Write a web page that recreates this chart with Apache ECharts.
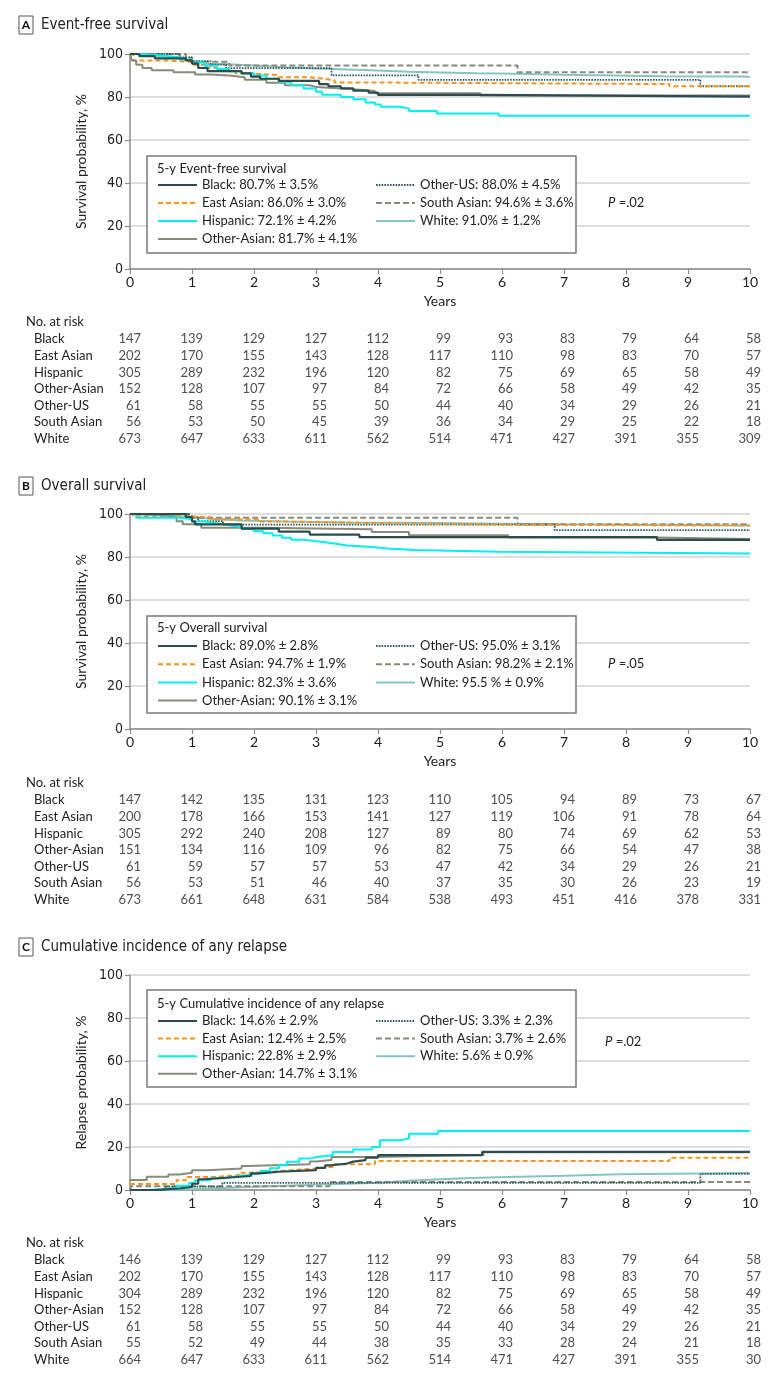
<!DOCTYPE html>
<html><head><meta charset="utf-8">
<script src="https://cdn.jsdelivr.net/npm/echarts@6/dist/echarts.min.js"></script>
<style>html,body{margin:0;padding:0;background:#fff}#c{width:783px;height:1379px}</style>
</head><body><div id="c"></div>
<script>
// ---------------- DATA ----------------
const groups = ['Black','East Asian','Hispanic','Other-Asian','Other-US','South Asian','White'];
const yearTicks = [0,1,2,3,4,5,6,7,8,9,10];

// Panel A: Event-free survival (%), step curves [years, value]
const efsBlack = [[0,100],[0.15,99],[0.4,98],[0.9,97],[1.0,95.5],[1.1,93.5],[1.25,92],[1.8,91],[1.95,89.5],[2.1,88.5],[2.4,87.5],[3.05,86],[3.2,85],[3.4,84],[3.6,83],[3.85,82],[4.0,81],[5.65,80.2],[10,80.2]];
const efsEastAsian = [[0,100],[0.05,97],[0.6,96.3],[1.0,95],[1.2,93.5],[1.45,92],[1.7,91],[1.95,90.2],[2.4,89.2],[2.9,88.6],[3.1,87.8],[3.3,86.8],[3.6,86.0],[8.7,85],[10,85]];
const efsHispanic = [[0,100],[0.2,99.3],[0.5,98.5],[0.8,97.5],[1.0,96],[1.2,94.5],[1.4,93],[1.6,92],[1.8,91],[2.0,90],[2.2,88.5],[2.4,87],[2.6,85.5],[2.8,84],[3.0,82.5],[3.1,81],[3.4,80],[3.6,79],[3.8,77.5],[3.95,76.5],[4.05,75.5],[4.35,74.6],[4.5,73.5],[4.95,72.3],[5.95,71.3],[10,71.3]];
const efsOtherAsian = [[0,100],[0.03,97],[0.1,95],[0.2,93.5],[0.35,92.5],[0.7,91.5],[1.05,90.5],[1.3,90],[1.6,89.2],[1.85,88],[2.2,86.6],[2.5,85.5],[2.9,84.6],[3.0,83.7],[3.55,82.8],[3.95,81.7],[5.65,80.7],[10,80.7]];
const efsOtherUS = [[0,100],[0.8,98.4],[1.0,96.7],[1.3,95.1],[1.55,93.4],[3.25,90.1],[4.65,88.0],[9.2,85.0],[10,85.0]];
const efsSouthAsian = [[0,100],[0.9,98.2],[1.0,96.4],[1.6,94.6],[6.25,91.5],[10,91.5]];
const efsWhite = [[0,100],[0.1,99.5],[0.3,99],[0.5,98.3],[0.8,97.3],[1.0,96.3],[1.2,95.3],[1.5,94.6],[2.0,93.8],[2.5,93.3],[3.0,92.8],[3.5,92.3],[4.0,91.7],[4.5,91.4],[5.0,91.0],[5.6,90.8],[6.2,90.3],[7.0,90],[7.8,89.7],[8.6,89.5],[9.9,89.3],[10,89.3]];

// Panel B: Overall survival (%)
const osBlack = [[0,100],[0.9,98.6],[1.0,96.6],[1.05,95.2],[1.8,93.2],[2.4,91.8],[2.9,90.4],[3.7,89.2],[8.5,88.0],[10,88.0]];
const osEastAsian = [[0,100],[0.05,99.0],[0.9,98.5],[1.3,97.5],[2.1,96.5],[2.5,95.7],[4.1,95.0],[6.2,94.7],[10,94.7]];
const osHispanic = [[0,100],[0.1,98.3],[0.8,97.6],[1.0,96.5],[1.2,95.7],[1.4,94.8],[1.6,94],[1.8,93],[2.0,92],[2.15,91],[2.3,90],[2.45,89],[2.6,88],[2.8,87.2],[3.05,86.3],[3.3,85.4],[3.5,84.6],[3.9,84.0],[4.15,83.2],[4.6,82.4],[5.95,81.6],[10,81.6]];
const osOtherAsian = [[0,100],[0.1,99.3],[0.6,98.6],[0.75,96.6],[0.85,95.2],[1.15,93.6],[2.1,92.9],[3.9,91.6],[4.5,90.1],[6.1,89.1],[8.5,88.4],[10,88.4]];
const osOtherUS = [[0,100],[0.95,98.4],[1.1,96.7],[1.5,95.1],[6.85,92.5],[10,92.5]];
const osSouthAsian = [[0,100],[1.0,98.2],[6.25,95.2],[10,95.2]];
const osWhite = [[0,100],[0.1,99.5],[0.4,99],[0.8,98.5],[1.0,97.8],[1.3,97],[1.8,96.5],[2.5,96.1],[3.5,95.8],[5.0,95.5],[6.0,95.2],[7,94.9],[8.5,94.6],[10,94.4]];

// Panel C: Cumulative incidence of any relapse (%)
const cirBlack = [[0,0],[0.4,0.7],[0.8,1.4],[1.0,2.9],[1.1,5.0],[1.2,5.7],[1.55,6.5],[1.95,7.7],[2.1,8.5],[2.4,9.2],[3.0,10.3],[3.15,11.5],[3.25,12.3],[3.5,13.2],[3.6,13.9],[3.8,15.1],[4.0,16.2],[5.68,17.7],[10,17.7]];
const cirEastAsian = [[0,2.8],[0.75,4.5],[0.9,6.0],[1.35,6.9],[1.75,8.0],[1.95,8.7],[2.35,9.2],[2.6,10.0],[3.0,10.8],[3.28,12.0],[3.95,13.5],[8.7,15.0],[10,15.0]];
const cirHispanic = [[0,0],[0.3,0.5],[0.55,1.0],[0.75,2.0],[0.95,3.2],[1.05,4.5],[1.3,5.5],[1.5,6.3],[1.7,7.0],[1.9,7.8],[2.1,8.8],[2.26,10.1],[2.4,11.5],[2.53,13.1],[2.73,14.6],[2.9,15.3],[3.0,16.2],[3.27,17.7],[3.6,18.8],[3.9,20.0],[4.03,23.1],[4.34,23.9],[4.5,26.2],[4.97,27.4],[10,27.4]];
const cirOtherAsian = [[0,4.6],[0.27,6.2],[0.62,7.2],[0.8,8.0],[1.0,9.2],[1.25,10],[1.8,11.2],[1.9,12.0],[2.9,13.2],[3.0,13.9],[3.25,15.4],[3.95,16.3],[5.7,17.6],[10,17.6]];
const cirOtherUS = [[0,0],[0.57,1.6],[1.49,3.3],[9.2,7.5],[10,7.5]];
const cirSouthAsian = [[0,0],[0.02,1.8],[3.22,3.7],[10,3.7]];
const cirWhite = [[0,0],[0.5,0.4],[1,0.9],[1.5,1.5],[2,2.0],[2.5,2.5],[3,2.9],[3.5,3.4],[4,4.3],[4.5,5.0],[5,5.6],[5.5,6.0],[6.1,6.6],[7,7.3],[7.9,7.9],[10,7.9]];

// Legend values (5-y estimates), in group order
const efsLegend = ['80.7% ± 3.5%','86.0% ± 3.0%','72.1% ± 4.2%','81.7% ± 4.1%','88.0% ± 4.5%','94.6% ± 3.6%','91.0% ± 1.2%'];
const osLegend  = ['89.0% ± 2.8%','94.7% ± 1.9%','82.3% ± 3.6%','90.1% ± 3.1%','95.0% ± 3.1%','98.2% ± 2.1%','95.5 % ± 0.9%'];
const cirLegend = ['14.6% ± 2.9%','12.4% ± 2.5%','22.8% ± 2.9%','14.7% ± 3.1%','3.3% ± 2.3%','3.7% ± 2.6%','5.6% ± 0.9%'];

// Numbers at risk (rows in group order, columns at years 0..10)
const riskEFS = [
  [147,139,129,127,112,99,93,83,79,64,58],
  [202,170,155,143,128,117,110,98,83,70,57],
  [305,289,232,196,120,82,75,69,65,58,49],
  [152,128,107,97,84,72,66,58,49,42,35],
  [61,58,55,55,50,44,40,34,29,26,21],
  [56,53,50,45,39,36,34,29,25,22,18],
  [673,647,633,611,562,514,471,427,391,355,309]
];
const riskOS = [
  [147,142,135,131,123,110,105,94,89,73,67],
  [200,178,166,153,141,127,119,106,91,78,64],
  [305,292,240,208,127,89,80,74,69,62,53],
  [151,134,116,109,96,82,75,66,54,47,38],
  [61,59,57,57,53,47,42,34,29,26,21],
  [56,53,51,46,40,37,35,30,26,23,19],
  [673,661,648,631,584,538,493,451,416,378,331]
];
const riskCIR = [
  [146,139,129,127,112,99,93,83,79,64,58],
  [202,170,155,143,128,117,110,98,83,70,57],
  [304,289,232,196,120,82,75,69,65,58,49],
  [152,128,107,97,84,72,66,58,49,42,35],
  [61,58,55,55,50,44,40,34,29,26,21],
  [55,52,49,44,38,35,33,28,24,21,18],
  [664,647,633,611,562,514,471,427,391,355,30]
];

// ---------------- STYLE / LAYOUT ----------------
const FONT = "Lato, 'Noto Sans', sans-serif";
const NARROW = "'Liberation Sans Narrow', 'DejaVu Sans Condensed', Lato, sans-serif";
const gstyle = {
  'Black':       {color:'#2b4d4d', type:'solid', width:2.2},
  'East Asian':  {color:'#f7931e', type:[5,3], width:2},
  'Hispanic':    {color:'#00f0f0', type:'solid', width:2},
  'Other-Asian': {color:'#8a8a7a', type:'solid', width:2},
  'Other-US':    {color:'#2d5c5c', type:[1.6,1.2], width:1.8},
  'South Asian': {color:'#8a8a7a', type:[6,3], width:2},
  'White':       {color:'#86c4c4', type:'solid', width:2}
};
const drawOrder = ['White','South Asian','Other-US','East Asian','Other-Asian','Hispanic','Black'];

const panels = [
  {id:'A', title:'Event-free survival', ylabel:'Survival probability, %', legTitle:'5-y Event-free survival', p:'.02',
   curves:[efsBlack,efsEastAsian,efsHispanic,efsOtherAsian,efsOtherUS,efsSouthAsian,efsWhite], leg:efsLegend, risk:riskEFS,
   titleY:25, plotTop:54, boxTop:156, boxH:97, legTitleY:169, row0:185, step:18, pX:608, pY:203, riskHead:322, riskTop:331},
  {id:'B', title:'Overall survival', ylabel:'Survival probability, %', legTitle:'5-y Overall survival', p:'.05',
   curves:[osBlack,osEastAsian,osHispanic,osOtherAsian,osOtherUS,osSouthAsian,osWhite], leg:osLegend, risk:riskOS,
   titleY:486, plotTop:514, boxTop:616, boxH:97, legTitleY:628, row0:646, step:18.2, pX:608, pY:664, riskHead:783, riskTop:792},
  {id:'C', title:'Cumulative incidence of any relapse', ylabel:'Relapse probability, %', legTitle:'5-y Cumulative incidence of any relapse', p:'.02',
   curves:[cirBlack,cirEastAsian,cirHispanic,cirOtherAsian,cirOtherUS,cirSouthAsian,cirWhite], leg:cirLegend, risk:riskCIR,
   titleY:947, plotTop:975, boxTop:990, boxH:97, legTitleY:1004, row0:1021, step:17.6, pX:605, pY:1042, riskHead:1243, riskTop:1252}
];
const PLOT_H = 215, LEFT = 130, RIGHT = 33;

const grid = [], xAxis = [], yAxis = [], series = [], legend = [], graphic = [];
const legendText = {};

panels.forEach((p, pi) => {
  const gi0 = 2 * pi, rg = 2 * pi + 1;
  grid.push({left:LEFT, right:RIGHT, top:p.plotTop, height:PLOT_H, containLabel:false});
  xAxis.push({type:'value', gridIndex:gi0, min:0, max:10, interval:1,
    axisLine:{show:true, onZero:false, lineStyle:{color:'#8c8c8c', width:1.5}},
    axisTick:{show:true, length:5, lineStyle:{color:'#8c8c8c', width:1.2}},
    axisLabel:{fontSize:14, color:'#222', margin:6, fontFamily:FONT},
    splitLine:{show:false},
    name:'Years', nameLocation:'middle', nameGap:25,
    nameTextStyle:{fontSize:14, color:'#222', fontFamily:FONT}});
  yAxis.push({type:'value', gridIndex:gi0, min:0, max:100, interval:20,
    axisLine:{show:true, lineStyle:{color:'#8c8c8c', width:1.5}},
    axisTick:{show:true, length:5, lineStyle:{color:'#8c8c8c', width:1.2}},
    axisLabel:{fontSize:14, color:'#222', margin:7, fontFamily:NARROW},
    splitLine:{show:true, lineStyle:{color:'#dedede', width:2}},
    name:p.ylabel, nameLocation:'middle', nameGap:38,
    nameTextStyle:{fontSize:14, color:'#222', fontFamily:FONT}});

  drawOrder.forEach(g => {
    const gi = groups.indexOf(g), st = gstyle[g];
    const nm = p.id + ':' + g;
    legendText[nm] = g + ': ' + p.leg[gi];
    series.push({type:'line', name:nm, xAxisIndex:gi0, yAxisIndex:gi0, step:'end',
      data:p.curves[gi], symbol:'none', showSymbol:false, silent:true, animation:false,
      lineStyle:{color:st.color, type:st.type, width:st.width}, itemStyle:{color:st.color},
      emphasis:{disabled:true}, z:2});
  });

  // legend: two columns
  const cols = [groups.slice(0,4), groups.slice(4)];
  const colX = [157, 375];
  cols.forEach((cg, ci) => {
    legend.push({data:cg.map(g => p.id + ':' + g), left:colX[ci], top:p.row0 - 7,
      orient:'vertical', itemWidth:39, itemHeight:14, itemGap:p.step - 14, padding:0,
      selectedMode:false, z:10, itemStyle:{opacity:0},
      formatter:n => legendText[n],
      textStyle:{fontSize:13, color:'#222', fontFamily:FONT, lineHeight:14}});
  });

  // risk table grid
  grid.push({left:LEFT, right:RIGHT, top:p.riskTop, height:116});
  xAxis.push({type:'value', gridIndex:rg, min:0, max:10, interval:1, show:false});
  yAxis.push({type:'category', gridIndex:rg, data:groups, inverse:true,
    axisLine:{show:false}, axisTick:{show:false}, splitLine:{show:false},
    axisLabel:{align:'left', margin:LEFT - 34, fontSize:13, color:'#222', fontFamily:FONT, interval:0}});
  const rdata = [];
  p.risk.forEach((row, gi) => row.forEach((v, j) => rdata.push([yearTicks[j], groups[gi], v])));
  series.push({type:'scatter', xAxisIndex:rg, yAxisIndex:rg, data:rdata, symbolSize:1,
    itemStyle:{color:'rgba(0,0,0,0)'}, silent:true, animation:false,
    label:{show:true, position:'inside', align:'right', offset:[11,0], fontSize:13, color:'#222', fontFamily:FONT,
      formatter:pr => String(pr.value[2])}});

  // panel title
  graphic.push({type:'rect', shape:{x:19, y:p.titleY - 9, width:14, height:18}, style:{fill:'#fff', stroke:'#555', lineWidth:1}});
  graphic.push({type:'text', x:26, y:p.titleY, style:{text:p.id, fontSize:12, fontWeight:'bold', fontFamily:FONT, fill:'#111', align:'center', verticalAlign:'middle'}});
  graphic.push({type:'text', x:41, y:p.titleY, style:{text:p.title, fontSize:15, fontFamily:NARROW, fill:'#222', verticalAlign:'middle'}});
  // legend box
  graphic.push({type:'rect', z:3, shape:{x:147, y:p.boxTop, width:429, height:p.boxH}, style:{fill:'#fff', stroke:'#7a7a7a', lineWidth:1.5}});
  graphic.push({type:'text', z:4, x:157, y:p.legTitleY, style:{text:p.legTitle, fontSize:13, fontFamily:FONT, fill:'#222', verticalAlign:'middle'}});
  // P value
  graphic.push({type:'text', z:4, x:p.pX, y:p.pY, style:{text:'{i|P} =' + p.p, fontSize:13, fontFamily:FONT, fill:'#222', verticalAlign:'middle',
    rich:{i:{fontStyle:'italic', fontSize:13, fontFamily:FONT, fill:'#222'}}}});
  // No. at risk
  graphic.push({type:'text', x:26, y:p.riskHead, style:{text:'No. at risk', fontSize:13, fontFamily:FONT, fill:'#222', verticalAlign:'middle'}});
});

const chart = echarts.init(document.getElementById('c'), null, {renderer:'canvas'});
chart.setOption({animation:false, backgroundColor:'#fff', grid, xAxis, yAxis, series, legend, graphic});
</script></body></html>
